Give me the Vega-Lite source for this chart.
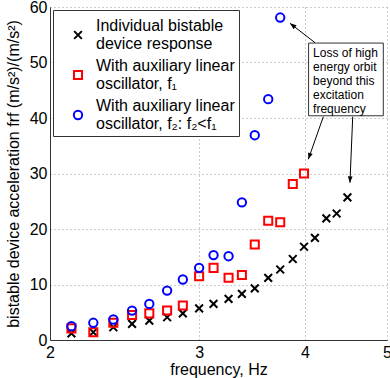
{
  "$schema": "https://vega.github.io/schema/vega-lite/v6.json",
  "width": 337,
  "height": 333,
  "autosize": "none",
  "padding": {"left": 50, "top": 7, "right": 3, "bottom": 38},
  "background": "white",
  "config": {
    "view": {"stroke": null},
    "font": "Liberation Sans",
    "axis": {
      "domainColor": "#333333",
      "domainWidth": 1,
      "gridColor": "#999999",
      "gridDash": [1, 3],
      "gridWidth": 1,
      "ticks": false,
      "labelFontSize": 16,
      "labelColor": "#000000",
      "titleFontSize": 16,
      "titleFontWeight": "normal",
      "titleColor": "#000000",
      "labelFont": "Liberation Sans",
      "titleFont": "Liberation Sans",
      "labelFlush": false
    },
    "legend": {
      "orient": "none",
      "legendX": 3,
      "legendY": 3,
      "fillColor": "white",
      "strokeColor": "#333333",
      "padding": 4,
      "symbolOffset": 13,
      "labelOffset": 10,
      "labelFontSize": 16,
      "labelLimit": 400,
      "labelBaseline": "line-bottom",
      "rowPadding": 6,
      "symbolStrokeWidth": 2,
      "labelFont": "Liberation Sans",
      "labelColor": "#000000",
      "titleFontSize": 1,
      "titlePadding": 12,
      "titleColor": "white"
    }
  },
  "datasets": {
    "pts": [
      {"s": "Individual bistable|device response", "f": 2.12, "v": 1.2},
      {"s": "Individual bistable|device response", "f": 2.25, "v": 1.4},
      {"s": "Individual bistable|device response", "f": 2.376, "v": 2.3},
      {"s": "Individual bistable|device response", "f": 2.5, "v": 2.9},
      {"s": "Individual bistable|device response", "f": 2.62, "v": 3.5},
      {"s": "Individual bistable|device response", "f": 2.75, "v": 4.1},
      {"s": "Individual bistable|device response", "f": 2.87, "v": 4.8},
      {"s": "Individual bistable|device response", "f": 3.0, "v": 5.7},
      {"s": "Individual bistable|device response", "f": 3.12, "v": 6.5},
      {"s": "Individual bistable|device response", "f": 3.25, "v": 7.4},
      {"s": "Individual bistable|device response", "f": 3.37, "v": 8.3},
      {"s": "Individual bistable|device response", "f": 3.49, "v": 9.3},
      {"s": "Individual bistable|device response", "f": 3.62, "v": 11.2},
      {"s": "Individual bistable|device response", "f": 3.74, "v": 12.7},
      {"s": "Individual bistable|device response", "f": 3.87, "v": 14.6},
      {"s": "Individual bistable|device response", "f": 3.99, "v": 16.8},
      {"s": "Individual bistable|device response", "f": 4.11, "v": 18.4},
      {"s": "Individual bistable|device response", "f": 4.24, "v": 21.9},
      {"s": "Individual bistable|device response", "f": 4.36, "v": 22.8},
      {"s": "Individual bistable|device response", "f": 4.49, "v": 25.7},
      {"s": "With auxiliary linear|oscillator, f₁", "f": 2.12, "v": 2.1},
      {"s": "With auxiliary linear|oscillator, f₁", "f": 2.25, "v": 1.4},
      {"s": "With auxiliary linear|oscillator, f₁", "f": 2.376, "v": 3.1},
      {"s": "With auxiliary linear|oscillator, f₁", "f": 2.5, "v": 4.5},
      {"s": "With auxiliary linear|oscillator, f₁", "f": 2.62, "v": 4.8},
      {"s": "With auxiliary linear|oscillator, f₁", "f": 2.75, "v": 5.3},
      {"s": "With auxiliary linear|oscillator, f₁", "f": 2.87, "v": 6.2},
      {"s": "With auxiliary linear|oscillator, f₁", "f": 3.0, "v": 11.5},
      {"s": "With auxiliary linear|oscillator, f₁", "f": 3.12, "v": 13.0},
      {"s": "With auxiliary linear|oscillator, f₁", "f": 3.25, "v": 11.2},
      {"s": "With auxiliary linear|oscillator, f₁", "f": 3.37, "v": 11.7},
      {"s": "With auxiliary linear|oscillator, f₁", "f": 3.49, "v": 17.2},
      {"s": "With auxiliary linear|oscillator, f₁", "f": 3.62, "v": 21.5},
      {"s": "With auxiliary linear|oscillator, f₁", "f": 3.74, "v": 21.2},
      {"s": "With auxiliary linear|oscillator, f₁", "f": 3.87, "v": 28.1},
      {"s": "With auxiliary linear|oscillator, f₁", "f": 3.99, "v": 30.0},
      {"s": "With auxiliary linear|oscillator, f₂: f₂<f₁", "f": 2.12, "v": 2.5},
      {"s": "With auxiliary linear|oscillator, f₂: f₂<f₁", "f": 2.25, "v": 3.1},
      {"s": "With auxiliary linear|oscillator, f₂: f₂<f₁", "f": 2.376, "v": 3.7},
      {"s": "With auxiliary linear|oscillator, f₂: f₂<f₁", "f": 2.5, "v": 5.3},
      {"s": "With auxiliary linear|oscillator, f₂: f₂<f₁", "f": 2.62, "v": 6.5},
      {"s": "With auxiliary linear|oscillator, f₂: f₂<f₁", "f": 2.75, "v": 8.9},
      {"s": "With auxiliary linear|oscillator, f₂: f₂<f₁", "f": 2.87, "v": 10.9},
      {"s": "With auxiliary linear|oscillator, f₂: f₂<f₁", "f": 3.0, "v": 13.0},
      {"s": "With auxiliary linear|oscillator, f₂: f₂<f₁", "f": 3.12, "v": 15.3},
      {"s": "With auxiliary linear|oscillator, f₂: f₂<f₁", "f": 3.25, "v": 15.1},
      {"s": "With auxiliary linear|oscillator, f₂: f₂<f₁", "f": 3.37, "v": 24.8},
      {"s": "With auxiliary linear|oscillator, f₂: f₂<f₁", "f": 3.49, "v": 36.9},
      {"s": "With auxiliary linear|oscillator, f₂: f₂<f₁", "f": 3.62, "v": 43.4},
      {"s": "With auxiliary linear|oscillator, f₂: f₂<f₁", "f": 3.74, "v": 58.1}
    ],
    "box": [{"f": 4.04, "f2": 4.95, "v": 40.4, "v2": 53.5}],
    "note": [{"f": 4.09, "v": 51.7, "lines": ["Loss of high", "energy orbit", "beyond this", "excitation", "frequency"]}],
    "arrows": [
      {"id": "a", "f0": 4.111, "v0": 53.57, "f": 3.841, "v": 57.06},
      {"id": "b", "f0": 4.205, "v0": 40.23, "f": 4.037, "v": 32.56},
      {"id": "c", "f0": 4.555, "v0": 40.23, "f": 4.521, "v": 28.34}
    ]
  },
  "encoding": {
    "x": {
      "field": "f",
      "type": "quantitative",
      "title": "frequency, Hz",
      "scale": {"type": "log", "domain": [2, 5], "nice": false},
      "axis": {"values": [2, 3, 4, 5], "labelPadding": 4, "titlePadding": 1, "format": "d"}
    },
    "y": {
      "field": "v",
      "type": "quantitative",
      "title": "bistable device acceleration frf (m/s²)/(m/s²)",
      "scale": {"domain": [0, 60], "nice": false},
      "axis": {"values": [0, 10, 20, 30, 40, 50, 60], "labelPadding": 3, "titlePadding": 8}
    }
  },
  "layer": [
    {
      "data": {"name": "pts"},
      "mark": {"type": "point", "filled": false, "strokeWidth": 2, "opacity": 1},
      "encoding": {
        "color": {
          "field": "s",
          "type": "nominal",
          "title": " ",
          "scale": {
            "domain": ["Individual bistable|device response", "With auxiliary linear|oscillator, f₁", "With auxiliary linear|oscillator, f₂: f₂<f₁"],
            "range": ["#000000", "#ff0000", "#0000ff"]
          },
          "legend": {"labelExpr": "split(datum.label, '|')"}
        },
        "shape": {
          "field": "s",
          "type": "nominal",
          "title": " ",
          "scale": {
            "domain": ["Individual bistable|device response", "With auxiliary linear|oscillator, f₁", "With auxiliary linear|oscillator, f₂: f₂<f₁"],
            "range": ["M-1,-1L1,1M-1,1L1,-1", "square", "circle"]
          },
          "legend": {"labelExpr": "split(datum.label, '|')"}
        },
        "size": {
          "field": "s",
          "type": "nominal",
          "title": " ",
          "scale": {
            "domain": ["Individual bistable|device response", "With auxiliary linear|oscillator, f₁", "With auxiliary linear|oscillator, f₂: f₂<f₁"],
            "range": [60, 70, 85]
          },
          "legend": {"labelExpr": "split(datum.label, '|')"}
        }
      }
    },
    {
      "data": {"name": "box"},
      "mark": {"type": "rect", "fill": "white", "stroke": "#333333", "strokeWidth": 1},
      "encoding": {
        "x2": {"field": "f2"},
        "y2": {"field": "v2"}
      }
    },
    {
      "data": {"name": "note"},
      "mark": {"type": "text", "align": "left", "baseline": "middle", "fontSize": 12, "lineHeight": 14, "font": "Liberation Sans", "color": "#000000"},
      "encoding": {
        "text": {"field": "lines"}
      }
    },
    {
      "data": {"name": "arrows"},
      "mark": {"type": "rule", "color": "#000000", "strokeWidth": 1},
      "encoding": {
        "x2": {"field": "f0"},
        "y2": {"field": "v0"}
      }
    },
    {
      "data": {"name": "arrows"},
      "transform": [{"filter": "datum.id == 'a'"}],
      "mark": {"type": "point", "shape": "M0,0L0.6,1.6L-0.6,1.6Z", "filled": true, "color": "#000000", "size": 64, "opacity": 1, "angle": 308},
      "encoding": {}
    },
    {
      "data": {"name": "arrows"},
      "transform": [{"filter": "datum.id == 'b'"}],
      "mark": {"type": "point", "shape": "M0,0L0.6,1.6L-0.6,1.6Z", "filled": true, "color": "#000000", "size": 64, "opacity": 1, "angle": 199},
      "encoding": {}
    },
    {
      "data": {"name": "arrows"},
      "transform": [{"filter": "datum.id == 'c'"}],
      "mark": {"type": "point", "shape": "M0,0L0.6,1.6L-0.6,1.6Z", "filled": true, "color": "#000000", "size": 64, "opacity": 1, "angle": 182},
      "encoding": {}
    }
  ]
}
